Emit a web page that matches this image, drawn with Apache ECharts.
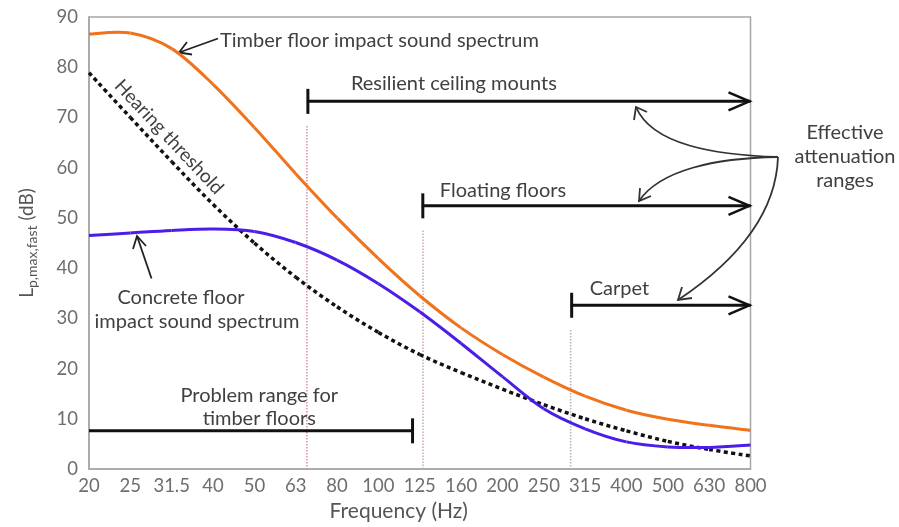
<!DOCTYPE html>
<html>
<head>
<meta charset="utf-8">
<script src="https://cdn.jsdelivr.net/npm/echarts@6/dist/echarts.min.js"></script>
<style>
  html, body { margin: 0; padding: 0; background: #fff; }
  #chart { width: 899px; height: 527px; }
</style>
</head>
<body>
<div id="chart"></div>
<script>
// One-third octave band centre frequencies (Hz)
const freqLabels = ['20', '25', '31.5', '40', '50', '63', '80', '100', '125', '160', '200', '250', '315', '400', '500', '630', '800'];

// Impact sound spectra, L_p,max,fast in dB, one value per band
const timberFloor = [86.6, 86.8, 83.7, 76.6, 68.0, 58.8, 50.0, 41.9, 34.5, 28.1, 22.8, 18.3, 14.5, 11.7, 9.9, 8.7, 7.7];
const concreteFloor = [46.5, 47.0, 47.5, 47.8, 47.3, 45.1, 41.6, 36.9, 31.3, 25.0, 18.4, 12.0, 8.0, 5.4, 4.4, 4.3, 4.8];
const hearingThreshold = [78.9, 70.0, 61.2, 52.7, 45.0, 38.2, 32.3, 27.2, 22.8, 19.2, 15.9, 12.8, 10.0, 7.6, 5.5, 3.9, 2.6];

// Frequency ranges (band index units) and the level at which each is drawn
const rangeNames = ['Resilient ceiling mounts', 'Floating floors', 'Carpet', 'Problem range for\ntimber floors'];
const rangeFrom = [5.27, 8.05, 11.65, 0];
const rangeTo = [16, 16, 16, 7.85];
const rangeLevel = [73.2, 52.4, 32.6, 7.6];

// Lower limits of the effective ranges (dotted guides)
const guideAt = [5.27, 8.08, 11.65];
const guideTop = [68.3, 47.5, 27.7];
const guideColors = ['#d9909c', '#c8aab2', '#b8b0b4'];

const FONT = 'Lato';
const TEXT = '#404040';
const AXIS_TEXT = '#6e6e6e';
const LABEL_FONT = '20px ' + FONT;

// label placement relative to the start of each range bar (pixels)
const rangeLabelLayout = [
  { dx: 44, dy: -17.5, align: 'left' },
  { dx: 18, dy: -15, align: 'left' },
  { dx: 19, dy: -16.5, align: 'left' },
  { dx: null, dy: -24, align: 'center' }
];

const chart = echarts.init(document.getElementById('chart'), null, { renderer: 'canvas' });

const toPairs = arr => arr.map((v, i) => [i, v]);

// Smoothed spectrum line: each data item draws the Catmull-Rom Bezier
// segment from its own point to the next one, in pixel space.
function splineSeries(name, values, style, z) {
  return {
    name, type: 'custom', z,
    data: toPairs(values),
    renderItem(params, api) {
      const i = params.dataIndexInside;
      const n = params.dataInsideLength;
      if (i >= n - 1) return { type: 'group', children: [] };
      const pt = k => {
        const j = Math.max(0, Math.min(n - 1, k));
        return api.coord([api.value(0, j), api.value(1, j)]);
      };
      const p0 = pt(i - 1), p1 = pt(i), p2 = pt(i + 1), p3 = pt(i + 2);
      return {
        type: 'bezierCurve',
        shape: {
          x1: p1[0], y1: p1[1], x2: p2[0], y2: p2[1],
          cpx1: p1[0] + (p2[0] - p0[0]) / 6, cpy1: p1[1] + (p2[1] - p0[1]) / 6,
          cpx2: p2[0] - (p3[0] - p1[0]) / 6, cpy2: p2[1] - (p3[1] - p1[1]) / 6
        },
        style: Object.assign({ fill: null }, style)
      };
    }
  };
}

const option = {
  animation: false,
  backgroundColor: '#ffffff',
  grid: {
    left: 89, top: 17, right: 148.5, bottom: 55.5,
    show: true, borderColor: '#a6a6a6', borderWidth: 1.5, backgroundColor: 'transparent'
  },
  xAxis: {
    type: 'value', min: 0, max: 16, interval: 1,
    name: 'Frequency (Hz)', nameLocation: 'middle', nameGap: 32,
    nameTextStyle: { fontFamily: FONT, fontSize: 21, color: '#555', padding: [0, 42, 0, 0] },
    axisLine: { show: true, lineStyle: { color: '#a6a6a6', width: 1.5 } },
    axisTick: { show: false },
    splitLine: { show: false },
    axisLabel: {
      fontFamily: FONT, fontSize: 18.5, color: AXIS_TEXT, margin: 8,
      formatter: v => freqLabels[Math.round(v)] || ''
    }
  },
  yAxis: {
    type: 'value', min: 0, max: 90, interval: 10,
    name: '{m|L}{s|p,max,fast}{m| (dB)}',
    nameLocation: 'middle', nameGap: 50, nameRotate: 90,
    nameTextStyle: {
      rich: {
        m: { fontFamily: FONT, fontSize: 19, color: '#555', lineHeight: 24 },
        s: { fontFamily: FONT, fontSize: 14, color: '#555', lineHeight: 24, padding: [10, 0, 0, 0] }
      }
    },
    axisLine: { show: true, lineStyle: { color: '#a6a6a6', width: 1.5 } },
    axisTick: { show: false },
    splitLine: { show: false },
    axisLabel: { fontFamily: FONT, fontSize: 18.5, color: AXIS_TEXT, margin: 11 }
  },
  series: [
    splineSeries('Hearing threshold', hearingThreshold, { stroke: '#111', lineWidth: 3.5, lineDash: [4, 3.4] }, 3),
    splineSeries('Concrete floor', concreteFloor, { stroke: '#4a1ee8', lineWidth: 3 }, 4),
    splineSeries('Timber floor', timberFloor, { stroke: '#f0731c', lineWidth: 3 }, 5),
    {
      name: 'Guides', type: 'custom', z: 2,
      data: guideAt.map((x, i) => [x, guideTop[i], i]),
      renderItem(params, api) {
        const top = api.coord([api.value(0), api.value(1)]);
        const bottom = api.coord([api.value(0), 0]);
        return {
          type: 'line',
          shape: { x1: top[0], y1: top[1], x2: bottom[0], y2: bottom[1] },
          style: { stroke: guideColors[api.value(2)], lineWidth: 1.5, lineDash: [1.5, 1.5] }
        };
      }
    },
    {
      name: 'Ranges', type: 'custom', z: 6,
      data: rangeFrom.map((f, i) => [f, rangeTo[i], rangeLevel[i], i]),
      renderItem(params, api) {
        const i = api.value(3);
        const a = api.coord([api.value(0), api.value(2)]);
        const b = api.coord([api.value(1), api.value(2)]);
        const stroke = { stroke: '#111', lineWidth: 3 };
        const children = [
          { type: 'line', shape: { x1: a[0], y1: a[1], x2: b[0], y2: b[1] }, style: stroke }
        ];
        if (api.value(0) > 0) {
          children.push({ type: 'line', shape: { x1: a[0] + 1, y1: a[1] - 12.5, x2: a[0] + 1, y2: a[1] + 12.5 }, style: stroke });
        }
        if (api.value(1) < 16) {
          children.push({ type: 'line', shape: { x1: b[0] - 1, y1: b[1] - 12.5, x2: b[0] - 1, y2: b[1] + 12.5 }, style: stroke });
        } else {
          children.push({
            type: 'polyline',
            shape: { points: [[b[0] - 22, b[1] - 9], [b[0] - 1, b[1]], [b[0] - 22, b[1] + 9]] },
            style: { stroke: '#111', lineWidth: 2.5, fill: null }
          });
        }
        const lay = rangeLabelLayout[i];
        const lx = lay.dx === null ? (a[0] + b[0]) / 2 + 8 : a[0] + lay.dx;
        children.push({
          type: 'text',
          style: {
            text: rangeNames[i], x: lx, y: a[1] + lay.dy,
            align: lay.align, verticalAlign: 'middle',
            font: LABEL_FONT, fill: TEXT, lineHeight: 23
          }
        });
        return { type: 'group', children };
      }
    }
  ],
  graphic: [
    // Timber floor label and pointer
    { type: 'text', style: { text: 'Timber floor impact sound spectrum', x: 220, y: 41, verticalAlign: 'middle', font: LABEL_FONT, fill: TEXT } },
    { type: 'line', shape: { x1: 218, y1: 38.5, x2: 179, y2: 52.5 }, style: { stroke: '#222', lineWidth: 1.8 } },
    { type: 'polyline', shape: { points: [[187, 42], [179, 52.5], [192, 54.5]] }, style: { stroke: '#222', lineWidth: 1.8, fill: null } },

    // Hearing threshold label along the dotted curve
    { type: 'text', x: 169, y: 137, rotation: -46.8 * Math.PI / 180,
      style: { text: 'Hearing threshold', x: 0, y: 0, align: 'center', verticalAlign: 'middle', font: '19px ' + FONT, fill: TEXT } },

    // Concrete floor label and pointer
    { type: 'text', style: { text: 'Concrete floor', x: 181, y: 298, align: 'center', verticalAlign: 'middle', font: LABEL_FONT, fill: TEXT } },
    { type: 'text', style: { text: 'impact sound spectrum', x: 197, y: 322, align: 'center', verticalAlign: 'middle', font: LABEL_FONT, fill: TEXT } },
    { type: 'line', shape: { x1: 151.5, y1: 278.5, x2: 137, y2: 236 }, style: { stroke: '#222', lineWidth: 1.8 } },
    { type: 'polyline', shape: { points: [[133, 249], [137, 236], [146, 246]] }, style: { stroke: '#222', lineWidth: 1.8, fill: null } },

    // Effective attenuation ranges label with curved pointers
    { type: 'text', style: { text: 'Effective\nattenuation\nranges', x: 845, y: 157, align: 'center', verticalAlign: 'middle', font: LABEL_FONT, fill: TEXT, lineHeight: 24 } },
    { type: 'bezierCurve', shape: { x1: 778, y1: 157, cpx1: 715, cpy1: 155, cpx2: 652, cpy2: 145, x2: 636, y2: 107 }, style: { stroke: '#333', lineWidth: 1.8, fill: null } },
    { type: 'polyline', shape: { points: [[634, 120], [636, 107], [647, 112]] }, style: { stroke: '#333', lineWidth: 1.8, fill: null } },
    { type: 'bezierCurve', shape: { x1: 778, y1: 157, cpx1: 715, cpy1: 158, cpx2: 660, cpy2: 170, x2: 639, y2: 201 }, style: { stroke: '#333', lineWidth: 1.8, fill: null } },
    { type: 'polyline', shape: { points: [[640, 188], [639, 201], [651, 196]] }, style: { stroke: '#333', lineWidth: 1.8, fill: null } },
    { type: 'bezierCurve', shape: { x1: 778, y1: 157, cpx1: 776, cpy1: 215, cpx2: 735, cpy2: 262, x2: 678, y2: 300 }, style: { stroke: '#333', lineWidth: 1.8, fill: null } },
    { type: 'polyline', shape: { points: [[682, 287], [678, 300], [692, 298]] }, style: { stroke: '#333', lineWidth: 1.8, fill: null } }
  ]
};

chart.setOption(option);
</script>
</body>
</html>
